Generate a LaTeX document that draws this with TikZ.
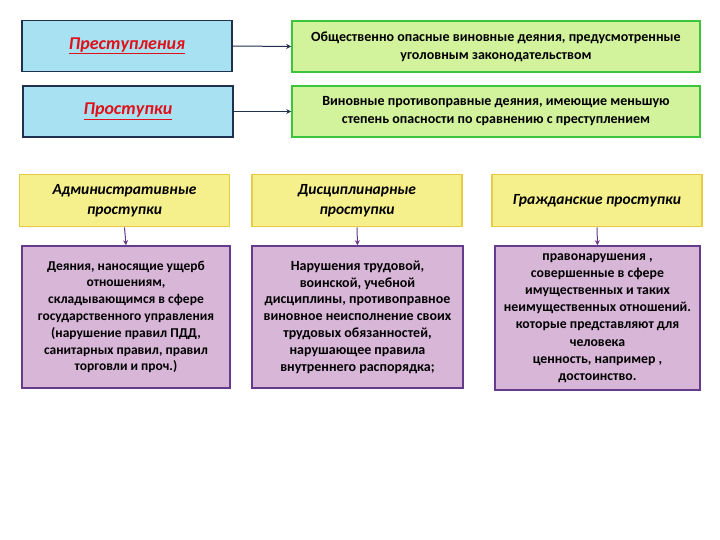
\documentclass[tikz,border=0pt]{standalone}
\usepackage{fontspec}
\setmainfont{Carlito}
\usetikzlibrary{arrows.meta}
\definecolor{bluefill}{HTML}{A8E2F2}
\definecolor{blueline}{HTML}{1F3050}
\definecolor{greenfill}{HTML}{D2F29C}
\definecolor{greenline}{HTML}{3CC43C}
\definecolor{yelfill}{HTML}{F6F08C}
\definecolor{yelline}{HTML}{E6CC44}
\definecolor{purfill}{HTML}{D8B6D8}
\definecolor{purline}{HTML}{663A8C}
\definecolor{redtext}{HTML}{E0101A}
\tikzset{
  bluebox/.style={draw=blueline, fill=bluefill, line width=1.6pt, minimum width=210pt, minimum height=51pt, inner sep=0pt},
  greenbox/.style={draw=greenline, fill=greenfill, line width=1.6pt, minimum width=408pt, minimum height=51pt, inner sep=0pt, align=center, font=\fontsize{14}{18}\selectfont\bfseries},
  yelbox/.style={draw=yelline, fill=yelfill, line width=1.6pt, minimum width=210pt, minimum height=52pt, inner sep=0pt, align=center, font=\fontsize{15.5}{20}\selectfont\bfseries\itshape},
  purbox/.style={draw=purline, fill=purfill, line width=1.6pt, minimum height=142pt, inner sep=0pt, align=center, font=\fontsize{13.5}{16.8}\selectfont\bfseries},
  bluearrow/.style={draw=blueline, line width=1pt, -{Stealth[length=5pt,width=5pt]}},
  purarrow/.style={draw=purline, line width=1pt, -{Stealth[length=5pt,width=5pt]}},
  redlabel/.style={text=redtext, font=\fontsize{18}{20}\selectfont\bfseries\itshape}
}
\begin{document}
\begin{tikzpicture}[x=1pt,y=-1pt]
\useasboundingbox (0,0) rectangle (720,540);
\node[bluebox] (p1) at (127,46) {};
\node[redlabel] at (p1.center) {\underline{Преступления}};
\node[bluebox] (p2) at (128,111.5) {};
\node[redlabel] at (p2.center) {\underline{Проступки}};
\node[greenbox] (g1) at (496,46.5) {Общественно опасные виновные деяния, предусмотренные\\уголовным законодательством};
\node[greenbox] (g2) at (496,111.5) {Виновные противоправные деяния, имеющие меньшую\\степень опасности по сравнению с преступлением};
\draw[bluearrow] (p1.east) -- (g1.west);
\draw[bluearrow] (p2.east) -- (g2.west);
\node[yelbox] (y1) at (124.5,200.5) {Административные\\проступки};
\node[yelbox] (y2) at (357,200.5) {Дисциплинарные\\проступки};
\node[yelbox] (y3) at (597,200.5) {Гражданские проступки};
\node[purbox, minimum width=208pt] (v1) at (126,317) {Деяния, наносящие ущерб\\отношениям,\\складывающимся в сфере\\государственного управления\\(нарушение правил ПДД,\\санитарных правил, правил\\торговли и проч.)};
\node[purbox, minimum width=211pt, font=\fontsize{14}{16.8}\selectfont\bfseries] (v2) at (357.5,317) {Нарушения трудовой,\\воинской, учебной\\дисциплины, противоправное\\виновное неисполнение своих\\трудовых обязанностей,\\нарушающее правила\\внутреннего распорядка;};
\node[purbox, minimum width=205pt, minimum height=144pt, font=\fontsize{13.8}{17.2}\selectfont\bfseries] (v3) at (597.5,318) {правонарушения ,\\совершенные в сфере\\имущественных и таких\\неимущественных отношений.\\которые представляют для\\человека\\ценность, например ,\\достоинство.};
\draw[purarrow] (y1.south) -- (v1.north);
\draw[purarrow] (y2.south) -- (v2.north);
\draw[purarrow] (y3.south) -- (v3.north);
\end{tikzpicture}
\end{document}
